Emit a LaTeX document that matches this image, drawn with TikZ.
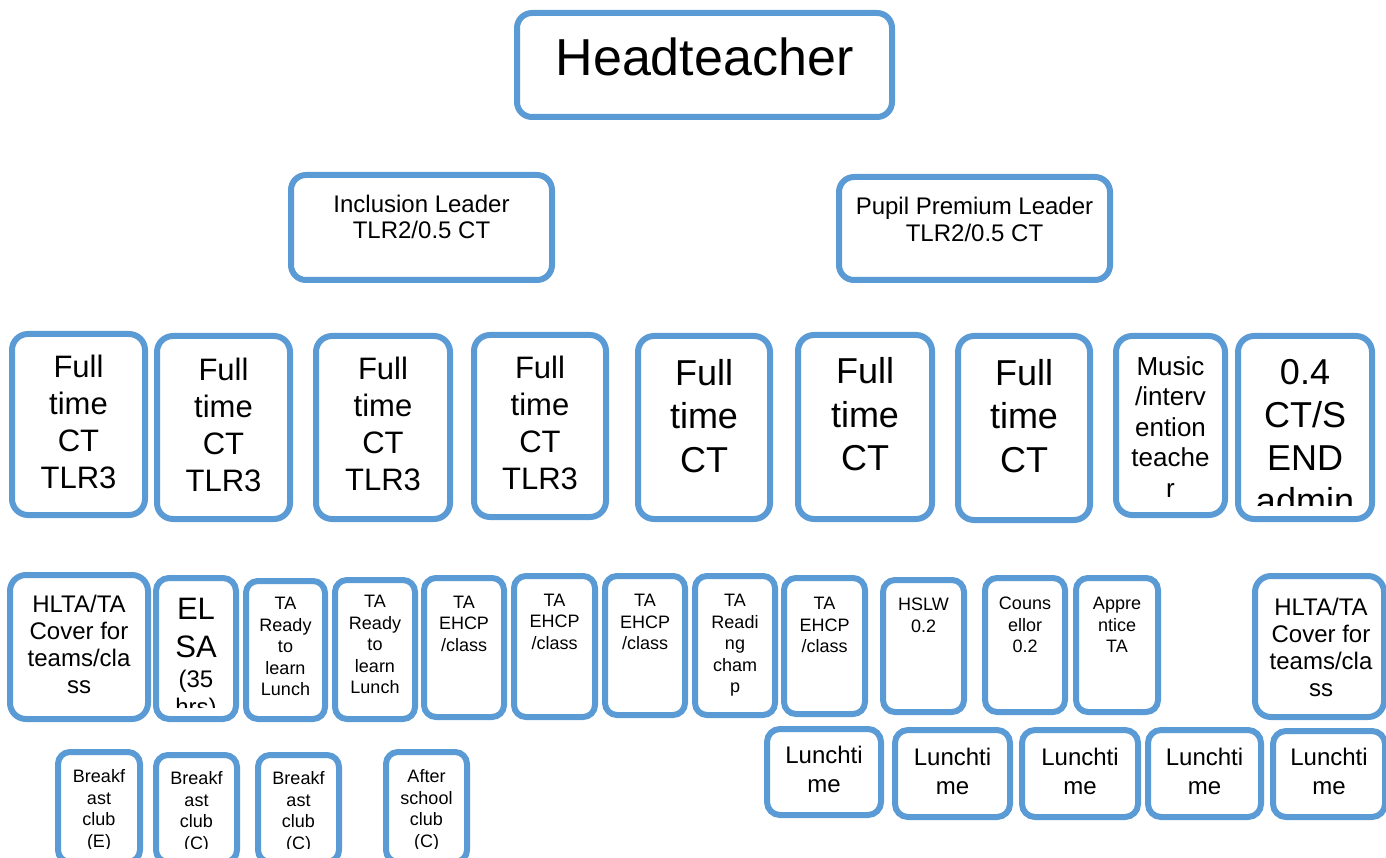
\documentclass[tikz,border=0pt]{standalone}
\usepackage{fontspec}
\setmainfont{Liberation Sans}
\usetikzlibrary{fit}
\definecolor{bxblue}{HTML}{5B9BD5}
\tikzset{
  bx/.style={draw=bxblue, line width=6pt, fill=white, inner sep=0pt, outer sep=0pt},
  tx/.style={anchor=north, inner sep=0pt, align=center, text=black}
}
\newcommand\mybox[6]{\node[bx, rounded corners=#6, fit={(#2,#3)(#4,#5)}] (#1) {};}
\newcommand\mytext[6]{\node[tx, font=\fontsize{#4}{#5}\selectfont] (#1) at (#2,#3) {#6};}
\begin{document}
\begin{tikzpicture}[x=1pt,y=-1pt]
\useasboundingbox (0,0) rectangle (1386,858);
% top
\mybox{ht}{517}{13}{892}{117}{15pt}
\node[anchor=base, inner sep=0pt, font=\fontsize{52}{60}\selectfont] (ht-t) at (704.5,76) {Headteacher};
\mybox{inc}{291}{175}{552}{280}{15pt}
\mytext{inc-t}{421.5}{194.7}{24}{26}{Inclusion Leader\\TLR2/0.5 CT}
\mybox{pp}{839}{177}{1110}{280}{15pt}
\mytext{pp-t}{974.5}{197.2}{24}{26.5}{Pupil Premium Leader\\TLR2/0.5 CT}
% teachers row
\mybox{b1}{12}{334}{145}{515}{16pt}
\mybox{b2}{157}{336}{290}{519}{16pt}
\mybox{b3}{316}{336}{450}{519}{16pt}
\mybox{b4}{474}{335}{606}{517}{16pt}
\mybox{b5}{638}{336}{770}{519}{16pt}
\mybox{b6}{798}{335}{932}{519}{16pt}
\mybox{b7}{958}{336}{1090}{520}{16pt}
\mybox{b8}{1116}{336}{1225}{515}{16pt}
\mybox{b9}{1238}{336}{1372}{519}{16pt}
\mytext{b1-t}{78.5}{354.8}{31}{37}{Full\\time\\CT\\TLR3}
\mytext{b2-t}{223.5}{357.8}{31}{37}{Full\\time\\CT\\TLR3}
\mytext{b3-t}{383}{356.8}{31}{37}{Full\\time\\CT\\TLR3}
\mytext{b4-t}{540}{355.8}{31}{37}{Full\\time\\CT\\TLR3}
\mytext{b5-t}{704}{359.2}{36}{43.5}{Full\\time\\CT}
\mytext{b6-t}{865}{357.5}{36}{43.5}{Full\\time\\CT}
\mytext{b7-t}{1024}{359.2}{36}{43.5}{Full\\time\\CT}
\mytext{b8-t}{1170.5}{356.4}{26}{30.5}{Music\\/interv\\ention\\teache\\r}
\begin{scope}
\clip (1241,339) rectangle (1369,505);
\mytext{b9-t}{1305}{359.2}{36}{43}{0.4\\CT/S\\END\\admin}
\end{scope}
% TA row
\mybox{h1}{10}{575}{148}{719}{16pt}
\mybox{el}{156}{578}{236}{719}{13pt}
\mybox{tr1}{246}{581}{325}{719}{12pt}
\mybox{tr2}{335}{580}{415}{719}{12pt}
\mybox{e1}{424}{578}{504}{717}{12pt}
\mybox{e2}{514}{576}{595}{717}{12pt}
\mybox{e3}{605}{576}{685}{715}{12pt}
\mybox{rc}{695}{576}{775}{715}{12pt}
\mybox{e4}{784}{578}{865}{714}{12pt}
\mybox{hs}{883}{580}{964}{712}{12pt}
\mybox{co}{985}{578}{1065}{712}{12pt}
\mybox{ap}{1076}{578}{1158}{712}{12pt}
\mybox{h2}{1255}{576}{1384}{717}{16pt}
\mytext{h1-t}{79}{594.8}{24}{27}{HLTA/TA\\Cover for\\teams/cla\\ss}
\mytext{h2-t}{1321}{597.8}{24}{27}{HLTA/TA\\Cover for\\teams/cla\\ss}
\begin{scope}
\clip (159,581) rectangle (233,707);
\mytext{el-t}{196}{597.8}{24}{30}{{\fontsize{31}{37}\selectfont EL}\\[8pt]{\fontsize{31}{37}\selectfont SA}\\(35\\[-2pt]hrs)}
\end{scope}
\mytext{tr1-t}{285.5}{597.1}{18}{21.5}{TA\\Ready\\to\\learn\\Lunch}
\mytext{tr2-t}{375}{595.1}{18}{21.5}{TA\\Ready\\to\\learn\\Lunch}
\mytext{e1-t}{464}{595.5}{18}{21.5}{TA\\EHCP\\/class}
\mytext{e2-t}{554.5}{593.6}{18}{21.5}{TA\\EHCP\\/class}
\mytext{e3-t}{645}{594.1}{18}{21.5}{TA\\EHCP\\/class}
\mytext{rc-t}{735}{594.1}{18}{21.5}{TA\\Readi\\ng\\cham\\p}
\mytext{e4-t}{824.5}{597.1}{18}{21.5}{TA\\EHCP\\/class}
\mytext{hs-t}{923.5}{598.1}{18}{21.5}{HSLW\\0.2}
\mytext{co-t}{1025}{597.1}{18}{21.5}{Couns\\ellor\\0.2}
\mytext{ap-t}{1117}{597.1}{18}{21.5}{Appre\\ntice\\TA}
% clubs row
\mybox{be}{58}{752}{140}{862}{12pt}
\mybox{bc1}{156}{755}{237}{862}{12pt}
\mybox{bc2}{258}{755}{339}{862}{12pt}
\mybox{as}{386}{752}{467}{862}{12pt}
\begin{scope}
\clip (0,740) rectangle (480,848);
\mytext{be-t}{99}{769.5}{18}{21.5}{Breakf\\ast\\club\\(E)}
\mytext{bc1-t}{196.5}{771.6}{18}{21.5}{Breakf\\ast\\club\\(C)}
\mytext{bc2-t}{298.5}{771.6}{18}{21.5}{Breakf\\ast\\club\\(C)}
\mytext{as-t}{426.5}{769.6}{18}{21.5}{After\\school\\club\\(C)}
\end{scope}
% lunchtime row
\mybox{l1}{767}{729}{881}{815}{13pt}
\mybox{l2}{895}{730}{1010}{817}{13pt}
\mybox{l3}{1022}{730}{1138}{817}{13pt}
\mybox{l4}{1148}{730}{1261}{817}{13pt}
\mybox{l5}{1273}{731}{1385}{817}{13pt}
\mytext{l1-t}{824}{745.8}{24}{29}{Lunchti\\me}
\mytext{l2-t}{952.5}{747.8}{24}{29}{Lunchti\\me}
\mytext{l3-t}{1080}{747.8}{24}{29}{Lunchti\\me}
\mytext{l4-t}{1204.5}{747.8}{24}{29}{Lunchti\\me}
\mytext{l5-t}{1329}{747.8}{24}{29}{Lunchti\\me}
\end{tikzpicture}
\end{document}
